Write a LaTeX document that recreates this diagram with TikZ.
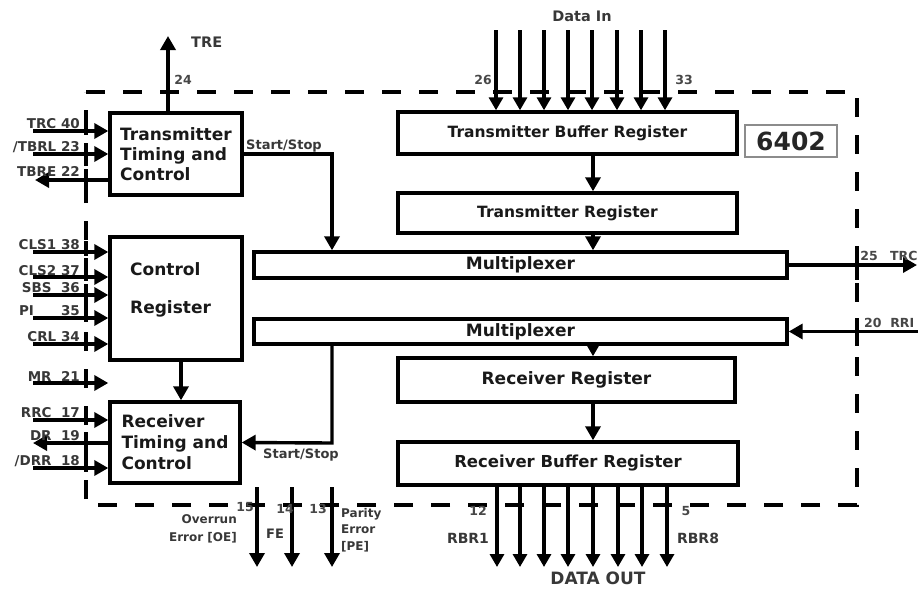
\documentclass[tikz,border=0pt]{standalone}
\usepackage{fontspec}
\setmainfont{DejaVu Sans}
\usetikzlibrary{arrows.meta}
\begin{document}
\begin{tikzpicture}[x=1pt,y=-1pt,
  blk/.style={draw=black, line width=3.4pt, inner sep=0pt, font=\bfseries\fontsize{16.5}{21}\selectfont, text=black!90},
  txt/.style={inner sep=0pt, font=\bfseries\fontsize{17}{21}\selectfont, text=black!90},
  arr/.style={line width=3.4pt, -{Triangle[width=15pt,length=14pt]}},
  bus/.style={line width=3.2pt, -{Triangle[width=14pt,length=13pt]}},
  pinlbl/.style={font=\bfseries\fontsize{13.5}{14}\selectfont, text=black!78, inner sep=0pt, anchor=base east},
  num/.style={font=\bfseries\fontsize{12.5}{14}\selectfont, text=black!72, inner sep=0pt},
  small/.style={font=\bfseries\fontsize{13}{17}\selectfont, text=black!78, inner sep=0pt},
  border/.style={line width=4pt, dash pattern=on 19pt off 18pt},
  tick/.style={line width=3.4pt}
]
\useasboundingbox (0,0) rectangle (918,589);

% chip outline
\draw[border] (86,92) -- (857,92) -- (857,505) -- (86,505) -- cycle;

% left blocks
\node[blk, font=\bfseries\fontsize{17}{20}\selectfont, minimum width=132pt, minimum height=82pt, align=left] (ttc) at (176,154) {Transmitter\\Timing and\\Control};
\node[blk, minimum width=132pt, minimum height=123pt] (cr) at (176,298.5) {};
\node[txt, align=left, anchor=west] (crt) at (130,290) {Control\\[17pt]Register};
\node[blk, font=\bfseries\fontsize{17}{21}\selectfont, minimum width=130pt, minimum height=81pt, align=left] (rtc) at (175,442.5) {Receiver\\Timing and\\Control};

% data path blocks
\node[blk, font=\bfseries\fontsize{15.5}{20}\selectfont, minimum width=339pt, minimum height=42pt] (tbr) at (567.5,133) {Transmitter Buffer Register};
\node[blk, font=\bfseries\fontsize{15.5}{20}\selectfont, minimum width=339pt, minimum height=40pt] (tr) at (567.5,213) {Transmitter Register};
\node[blk, font=\bfseries\fontsize{17}{20}\selectfont, minimum width=533pt, minimum height=26pt] (m1) at (520.5,265) {Multiplexer};
\node[blk, font=\bfseries\fontsize{17}{20}\selectfont, minimum width=533pt, minimum height=25pt] (m2) at (520.5,331.5) {Multiplexer};
\node[blk, font=\bfseries\fontsize{17}{20}\selectfont, minimum width=337pt, minimum height=44pt] (rr) at (566.5,380) {Receiver Register};
\node[blk, minimum width=340pt, minimum height=43pt] (rbr) at (568,463.5) {Receiver Buffer Register};
\node[draw=black!45, line width=1.4pt, minimum width=92pt, minimum height=32pt, inner sep=0pt, font=\bfseries\fontsize{25}{27}\selectfont, text=black!85] (chip) at (791,141) {6402};

% internal arrows
\coordinate (colx) at (593,0);
\draw[arr] (tbr.south -| colx) -- (tr.north -| colx);
\draw[arr] (tr.south -| colx) -- (m1.north -| colx);
\draw[arr] (m2.south -| colx) -- (rr.north -| colx);
\draw[arr] (rr.south -| colx) -- (rbr.north -| colx);
\coordinate (crx) at (181,0);
\draw[arr] (cr.south -| crx) -- (rtc.north -| crx);

% start/stop
\coordinate (ss1) at (332,154);
\draw[arr] (ttc.east) -- (ss1) -- (ss1 |- m1.north);
\node[small, anchor=base] (ss1l) at (284,149) {Start/Stop};
\coordinate (ss2) at (332,443);
\draw[arr] (ss2 |- m2.south) -- (ss2) -- (rtc.east);
\node[small, anchor=base] (ss2l) at (301,458) {Start/Stop};

% TRE
\coordinate (tre) at (168,36);
\draw[arr] (ttc.north -| tre) -- (tre);
\node[small, font=\bfseries\fontsize{14.5}{17}\selectfont, anchor=west] (trel) at (191,42) {TRE};
\node[num] (n24) at (183,80) {24};

% left pins
\coordinate (pTRC) at (33,131);   \draw[arr] (pTRC) -- (pTRC -| ttc.west);
\coordinate (pTBRL) at (33,154);  \draw[arr] (pTBRL) -- (pTBRL -| ttc.west);
\coordinate (pTBRE) at (35,180);  \draw[arr] (pTBRE -| ttc.west) -- (pTBRE);
\coordinate (pCLS1) at (33,252);  \draw[arr] (pCLS1) -- (pCLS1 -| cr.west);
\coordinate (pCLS2) at (33,277);  \draw[arr] (pCLS2) -- (pCLS2 -| cr.west);
\coordinate (pSBS) at (33,295);   \draw[arr] (pSBS) -- (pSBS -| cr.west);
\coordinate (pPI) at (33,318);    \draw[arr] (pPI) -- (pPI -| cr.west);
\coordinate (pCRL) at (33,344);   \draw[arr] (pCRL) -- (pCRL -| cr.west);
\coordinate (pMR) at (33,383);    \draw[arr] (pMR) -- (pMR -| cr.west);
\coordinate (pRRC) at (33,420);   \draw[arr] (pRRC) -- (pRRC -| rtc.west);
\coordinate (pDR) at (33,443);    \draw[arr] (pDR -| rtc.west) -- (pDR);
\coordinate (pDRR) at (33,468);   \draw[arr] (pDRR) -- (pDRR -| rtc.west);
\foreach \y in {131,154,180,252,277,295,318,344,383,420,443,468}
  \draw[tick] (86,{\y-11}) -- (86,{\y+4});

\node[pinlbl] (lTRC) at (80,128) {TRC 40};
\node[pinlbl] (lTBRL) at (80,151) {/TBRL 23};
\node[pinlbl] (lTBRE) at (80,176) {TBRE 22};
\node[pinlbl] (lCLS1) at (80,249) {CLS1 38};
\node[pinlbl] (lCLS2) at (80,275) {CLS2 37};
\node[pinlbl] (lSBS) at (80,292) {SBS\ \ 36};
\node[pinlbl] (lPI) at (80,315) {PI\qquad 35};
\node[pinlbl] (lCRL) at (80,341) {CRL 34};
\node[pinlbl] (lMR) at (80,381) {MR\ \ 21};
\node[pinlbl] (lRRC) at (80,417) {RRC\ \ 17};
\node[pinlbl] (lDR) at (80,440) {DR\ \ 19};
\node[pinlbl] (lDRR) at (80,465) {/DRR\ \ 18};

% right pins
\coordinate (trcout) at (917,265);
\draw[arr] (m1.east) -- (trcout);
\draw[tick] (857,246) -- (857,280);
\node[num] (n25) at (869,256) {25};
\node[num, anchor=west] (ltrc) at (890,256) {TRC};
\coordinate (rriin) at (918,331.5);
\draw[arr] (rriin) -- (m2.east);
\draw[tick] (857,318) -- (857,346);
\node[num, anchor=west] (lrri) at (864,323) {20\ \ RRI};

% data in
\foreach \i/\x in {1/496,2/520,3/544,4/568,5/592,6/617,7/641,8/665} {
  \coordinate (di\i) at (\x,30);
  \draw[bus] (di\i) -- (di\i |- tbr.north);
}
\node[small, font=\bfseries\fontsize{14.5}{17}\selectfont] (datain) at (582,16) {Data In};
\node[num] (n26) at (483,80) {26};
\node[num] (n33) at (684,80) {33};

% data out
\foreach \i/\x in {1/497,2/520,3/544,4/568,5/593,6/618,7/642,8/667} {
  \coordinate (do\i) at (\x,567);
  \draw[bus] (do\i |- rbr.south) -- (do\i);
}
\node[small, font=\bfseries\fontsize{17}{19}\selectfont] (dataout) at (598,578) {DATA OUT};
\node[num] (n12) at (478,511) {12};
\node[num] (n5) at (686,511) {5};
\node[small, font=\bfseries\fontsize{14}{16}\selectfont] (rbr1) at (468,538) {RBR1};
\node[small, font=\bfseries\fontsize{14}{16}\selectfont] (rbr8) at (698,538) {RBR8};

% status outputs
\coordinate (oeA) at (257,487); \coordinate (oeB) at (257,567);
\draw[arr] (oeA) -- (oeB);
\coordinate (feA) at (292,487); \coordinate (feB) at (292,567);
\draw[arr] (feA) -- (feB);
\coordinate (peA) at (332,487); \coordinate (peB) at (332,567);
\draw[arr] (peA) -- (peB);
\node[num] (n15) at (245,507) {15};
\node[num] (n14) at (285,509) {14};
\node[num] (n13) at (318,509) {13};
\node[small, font=\bfseries\fontsize{12}{18}\selectfont, align=right, anchor=north east] (loe) at (237,514) {Overrun\\Error [OE]};
\node[small, font=\bfseries\fontsize{13}{15}\selectfont] (lfe) at (275,534) {FE};
\node[small, font=\bfseries\fontsize{12}{16.5}\selectfont, align=left, anchor=north west] (lpe) at (341,508) {Parity\\Error\\{[PE]}};
\end{tikzpicture}
\end{document}
